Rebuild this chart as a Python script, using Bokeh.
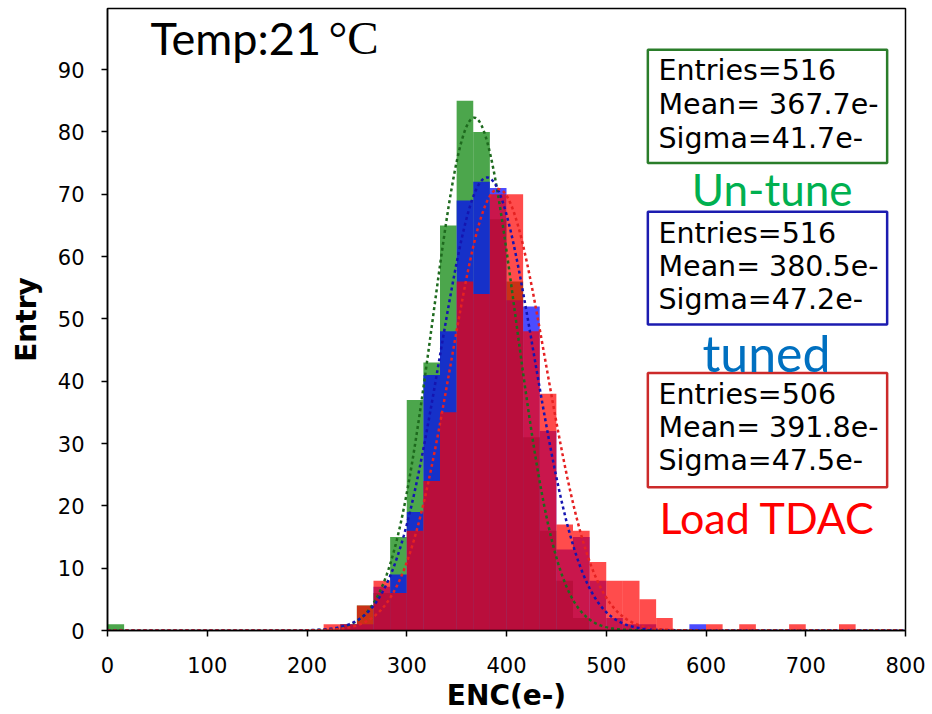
import numpy as np
from bokeh.plotting import figure
from bokeh.models import Label, BoxAnnotation, FixedTicker
from bokeh.embed import file_html
from bokeh.resources import INLINE

# ---------------- data ----------------
bin_lo, bin_hi, n_bins = 0, 800, 48
untune_counts = [1, 0, 0, 0, 0, 0, 0, 0, 0, 0,
                 0, 0, 0, 0, 1, 4, 6, 15, 37, 43,
                 65, 85, 80, 66, 56, 31, 16, 8, 2, 0,
                 0, 0, 0, 0, 0, 0, 0, 0, 0, 0,
                 0, 0, 0, 0, 0, 0, 0, 0]
tuned_counts = [0, 0, 0, 0, 0, 0, 0, 0, 0, 0,
                0, 0, 0, 0, 1, 1, 7, 9, 19, 41,
                48, 69, 72, 71, 53, 52, 32, 13, 15, 8,
                2, 1, 1, 0, 0, 1, 0, 0, 0, 0,
                0, 0, 0, 0, 0, 0, 0, 0]
tdac_counts = [0, 0, 0, 0, 0, 0, 0, 0, 0, 0,
               0, 0, 0, 1, 1, 4, 8, 6, 16, 24,
               35, 56, 54, 70, 70, 48, 38, 17, 16, 11,
               8, 8, 5, 2, 0, 0, 1, 0, 1, 0,
               0, 1, 0, 0, 1, 0, 0, 0]

series_names = ["Un-tune", "tuned", "Load TDAC"]
fit_entries = [516, 516, 506]
fit_mean = [367.7, 380.5, 391.8]
fit_sigma = [41.7, 47.2, 47.5]

x_ticks = [0, 100, 200, 300, 400, 500, 600, 700, 800]
y_ticks = [0, 10, 20, 30, 40, 50, 60, 70, 80, 90]
x_title = "ENC(e-)"
y_title = "Entry"

# ---------------- figure ----------------
p = figure(width=925, height=714, x_range=(0, 800), y_range=(0, 99.8),
           output_backend="svg", toolbar_location=None,
           min_border_left=107, min_border_right=20,
           min_border_top=8, min_border_bottom=84)
p.xgrid.visible = False
p.ygrid.visible = False
p.outline_line_color = "black"
p.outline_line_width = 1.5
p.outline_line_alpha = 1
p.background_fill_color = "white"
p.border_fill_color = "white"

edges = np.linspace(bin_lo, bin_hi, n_bins + 1)
hist_colors = ["#008000", "#0000ff", "#ff0000"]
for counts, col in zip([untune_counts, tuned_counts, tdac_counts], hist_colors):
    c = np.array(counts, dtype=float)
    m = c > 0
    p.quad(left=edges[:-1][m], right=edges[1:][m], bottom=0, top=c[m],
           fill_color=col, fill_alpha=0.7, line_color=None)

# Gaussian fit curves from the fit parameters shown in the boxes
bw = (bin_hi - bin_lo) / n_bins
xf = np.linspace(0, 800, 801)
fit_colors = ["#1e6a1e", "#1515b0", "#e52222"]
for N, mu, sg, col in zip(fit_entries, fit_mean, fit_sigma, fit_colors):
    yf = N * bw / (sg * np.sqrt(2 * np.pi)) * np.exp(-0.5 * ((xf - mu) / sg) ** 2)
    p.line(xf, yf, line_color=col, line_width=2.5, line_dash="3 3")

# axes
for ax in (p.xaxis[0], p.yaxis[0]):
    ax.axis_line_width = 1.5
    ax.major_tick_line_width = 1.5
    ax.major_tick_in = 0
    ax.major_tick_out = 6
    ax.minor_tick_line_color = None
    ax.major_label_text_font = "DejaVu Sans"
    ax.major_label_text_font_size = "21px"
    ax.major_label_text_color = "black"
    ax.axis_label_text_font = "DejaVu Sans"
    ax.axis_label_text_font_style = "bold"
    ax.axis_label_text_font_size = "28px"
    ax.axis_label_text_color = "black"
p.xaxis.ticker = FixedTicker(ticks=x_ticks)
p.yaxis.ticker = FixedTicker(ticks=y_ticks)
p.xaxis.axis_label = x_title
p.yaxis.axis_label = y_title
p.xaxis.major_label_standoff = 20
p.yaxis.major_label_standoff = 17
p.xaxis.axis_label_standoff = 3
p.yaxis.axis_label_standoff = 12

# ---------------- annotations ----------------
p.add_layout(Label(x=43.1, y=95.1, text="Temp:21", text_font="Lato",
                   text_font_size="45px", text_color="black",
                   text_baseline="alphabetic"))
p.add_layout(Label(x=221.6, y=95.1, text="°C", text_font="Liberation Serif",
                   text_font_size="47px", text_color="black",
                   text_baseline="alphabetic"))

box_line_colors = ["#2a7d2a", "#1c1cb0", "#cc2a2a"]
box_tb = [(93.2, 75.0), (67.2, 49.1), (41.3, 23.0)]
line_y = [(89.84, 84.47, 79.01), (63.77, 58.48, 53.18), (37.94, 32.56, 27.27)]
for i in range(3):
    top, bot = box_tb[i]
    p.add_layout(BoxAnnotation(left=541.7, right=781.6, top=top, bottom=bot,
                               fill_alpha=0, line_color=box_line_colors[i],
                               line_alpha=1, line_width=2.5))
    texts = [f"Entries={fit_entries[i]}", f"Mean= {fit_mean[i]}e-",
             f"Sigma={fit_sigma[i]}e-"]
    for t, yy in zip(texts, line_y[i]):
        p.add_layout(Label(x=552.4, y=yy, text=t, text_font="DejaVu Sans",
                           text_font_size="28.5px", text_color="black",
                           text_baseline="alphabetic"))

name_colors = ["#00b050", "#0070c0", "#ff0000"]
name_xy = [(666.3, 70.9), (660.6, 44.6), (661.4, 18.1)]
name_sizes = ["44px", "50px", "43px"]
for nm, col, (xx, yy), fs in zip(series_names, name_colors, name_xy, name_sizes):
    p.add_layout(Label(x=xx, y=yy, text=nm, text_font="Lato", text_font_size=fs,
                       text_color=col, text_align="center",
                       text_baseline="alphabetic"))

open("out.html", "w").write(file_html(p, INLINE))
